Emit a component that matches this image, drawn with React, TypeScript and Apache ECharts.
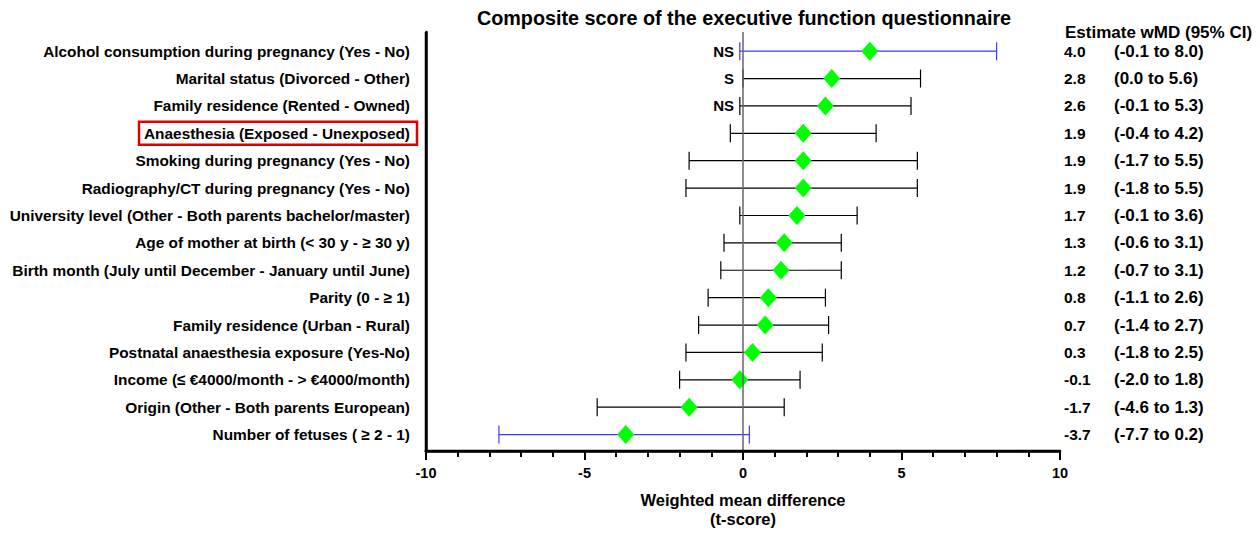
import React, { useEffect, useRef } from "react";
import * as echarts from "echarts";

const labels = [
  "Alcohol consumption during pregnancy (Yes - No)",
  "Marital status (Divorced - Other)",
  "Family residence (Rented - Owned)",
  "Anaesthesia (Exposed - Unexposed)",
  "Smoking during pregnancy (Yes - No)",
  "Radiography/CT during pregnancy (Yes - No)",
  "University level (Other - Both parents bachelor/master)",
  "Age of mother at birth (< 30 y - \u2265 30 y)",
  "Birth month (July until December - January until June)",
  "Parity (0 - \u2265 1)",
  "Family residence (Urban - Rural)",
  "Postnatal anaesthesia exposure (Yes-No)",
  "Income (\u2264 \u20ac4000/month - > \u20ac4000/month)",
  "Origin (Other - Both parents European)",
  "Number of fetuses ( \u2265 2 - 1)",
];
const estimates = [4.0, 2.8, 2.6, 1.9, 1.9, 1.9, 1.7, 1.3, 1.2, 0.8, 0.7, 0.3, -0.1, -1.7, -3.7];
const lower = [-0.1, 0.0, -0.1, -0.4, -1.7, -1.8, -0.1, -0.6, -0.7, -1.1, -1.4, -1.8, -2.0, -4.6, -7.7];
const upper = [8.0, 5.6, 5.3, 4.2, 5.5, 5.5, 3.6, 3.1, 3.1, 2.6, 2.7, 2.5, 1.8, 1.3, 0.2];
const significance = ["NS", "S", "NS", "", "", "", "", "", "", "", "", "", "", "", ""];
const blueRows = [0, 14];
const highlightRows = [3];
const xTicks = [-10, -5, 0, 5, 10];
const yRange = [0.4, 15.7];

const FONT = "'Liberation Sans', Arial, sans-serif";
const N = labels.length;
const rowY = (i: number) => N - i;

export default function App() {
  const ref = useRef<HTMLDivElement>(null);
  useEffect(() => {
    if (!ref.current) return;
    const chart = echarts.init(ref.current, undefined, { renderer: "svg" });
    const rows = labels.map((l, i) => [estimates[i], rowY(i), lower[i], upper[i], i]);
    const xMin = xTicks[0];
    const xMax = xTicks[xTicks.length - 1];
    chart.setOption({
      animation: false,
      textStyle: { fontFamily: FONT },
      title: {
        text: "Composite score of the executive function questionnaire",
        left: 739,
        top: 3,
        textAlign: "center",
        textStyle: { fontFamily: FONT, fontSize: 19.8, fontWeight: "bold", color: "#000" },
      },
      graphic: [
        {
          type: "text",
          left: 1065,
          top: 24,
          style: { text: "Estimate wMD (95% CI)", fontFamily: FONT, fontSize: 17, fontWeight: "bold", fill: "#000" },
        },
      ],
      grid: { left: 426, right: 200, top: 32, bottom: 80 },
      xAxis: {
        type: "value",
        min: xMin,
        max: xMax,
        interval: 5,
        splitLine: { show: false },
        axisLine: { show: true, onZero: false, lineStyle: { color: "#000", width: 2.5 } },
        axisTick: { show: true, length: 9, lineStyle: { color: "#000", width: 2 } },
        minorTick: { show: true, splitNumber: 5, length: 6, lineStyle: { color: "#000", width: 2 } },
        axisLabel: { fontFamily: FONT, fontSize: 14.5, fontWeight: "bold", color: "#000", margin: 14 },
        name: "Weighted mean difference\n(t-score)",
        nameLocation: "middle",
        nameGap: 39,
        nameTextStyle: { fontFamily: FONT, fontSize: 16.5, fontWeight: "bold", color: "#000", lineHeight: 19 },
      },
      yAxis: {
        type: "value",
        min: yRange[0],
        max: yRange[1],
        axisLabel: { show: false },
        axisTick: { show: false },
        splitLine: { show: false },
        axisLine: { show: true, onZero: false, lineStyle: { color: "#000", width: 2.5 } },
      },
      series: [
        {
          type: "custom",
          clip: false,
          data: [[0, 8]],
          encode: { x: 0, y: 1 },
          renderItem: (params: any, api: any) => {
            const bl = api.coord([xMin, yRange[0]]);
            const tl = api.coord([xMin, yRange[1]]);
            const br = api.coord([xMax, yRange[0]]);
            const z0t = api.coord([0, yRange[1]]);
            return {
              type: "group",
              children: [
                { type: "line", shape: { x1: z0t[0], y1: z0t[1], x2: z0t[0], y2: bl[1] }, style: { stroke: "#666", lineWidth: 1.5 } },
                { type: "line", shape: { x1: tl[0], y1: tl[1], x2: bl[0], y2: bl[1] + 1.25 }, style: { stroke: "#000", lineWidth: 2.5 } },
                { type: "line", shape: { x1: bl[0] - 1.25, y1: bl[1], x2: br[0] + 1, y2: br[1] }, style: { stroke: "#000", lineWidth: 2.5 } },
              ],
            };
          },
          z: 10,
        },
        {
          type: "custom",
          clip: false,
          data: rows,
          encode: { x: 0, y: 1 },
          renderItem: (params: any, api: any) => {
            const i = api.value(4);
            const y = api.value(1);
            const lo = api.coord([api.value(2), y]);
            const hi = api.coord([api.value(3), y]);
            const color = blueRows.includes(i) ? "#3a3aff" : "#000";
            const cap = 9;
            const cy = lo[1];
            const hl = highlightRows.includes(i);
            const children: any[] = [
              { type: "line", shape: { x1: lo[0], y1: cy, x2: hi[0], y2: cy }, style: { stroke: color, lineWidth: 1.2 } },
              { type: "line", shape: { x1: lo[0], y1: cy - cap, x2: lo[0], y2: cy + cap }, style: { stroke: color, lineWidth: 1.2 } },
              { type: "line", shape: { x1: hi[0], y1: cy - cap, x2: hi[0], y2: cy + cap }, style: { stroke: color, lineWidth: 1.2 } },
              {
                type: "text",
                x: hl ? 417 : 410,
                y: cy,
                style: hl
                  ? {
                      text: labels[i], fontFamily: FONT, fontSize: 15.4, fontWeight: "bold", fill: "#000",
                      align: "right", verticalAlign: "middle",
                      borderColor: "#e00000", borderWidth: 2.5, padding: [4, 7, 4, 5],
                    }
                  : {
                      text: labels[i], fontFamily: FONT, fontSize: 15.4, fontWeight: "bold", fill: "#000",
                      align: "right", verticalAlign: "middle",
                    },
              },
              {
                type: "text",
                x: 1064,
                y: cy,
                style: { text: estimates[i].toFixed(1), fontFamily: FONT, fontSize: 15.5, fontWeight: "bold", fill: "#000", align: "left", verticalAlign: "middle" },
              },
              {
                type: "text",
                x: 1114,
                y: cy,
                style: {
                  text: "(" + lower[i].toFixed(1) + " to " + upper[i].toFixed(1) + ")",
                  fontFamily: FONT, fontSize: 17, fontWeight: "bold", fill: "#000", align: "left", verticalAlign: "middle",
                },
              },
            ];
            if (significance[i]) {
              children.push({
                type: "text",
                x: 734,
                y: cy,
                style: { text: significance[i], fontFamily: FONT, fontSize: 15, fontWeight: "bold", fill: "#000", align: "right", verticalAlign: "middle" },
              });
            }
            return { type: "group", children };
          },
          z: 2,
        },
        {
          type: "scatter",
          data: rows.map((r) => [r[0], r[1]]),
          symbol: "diamond",
          symbolSize: [17, 19],
          itemStyle: { color: "#00ff00", opacity: 1 },
          z: 5,
        },
      ],
    });
    return () => chart.dispose();
  }, []);
  return <div ref={ref} style={{ width: 1260, height: 533, position: "absolute", left: 0, top: 0 }} />;
}
